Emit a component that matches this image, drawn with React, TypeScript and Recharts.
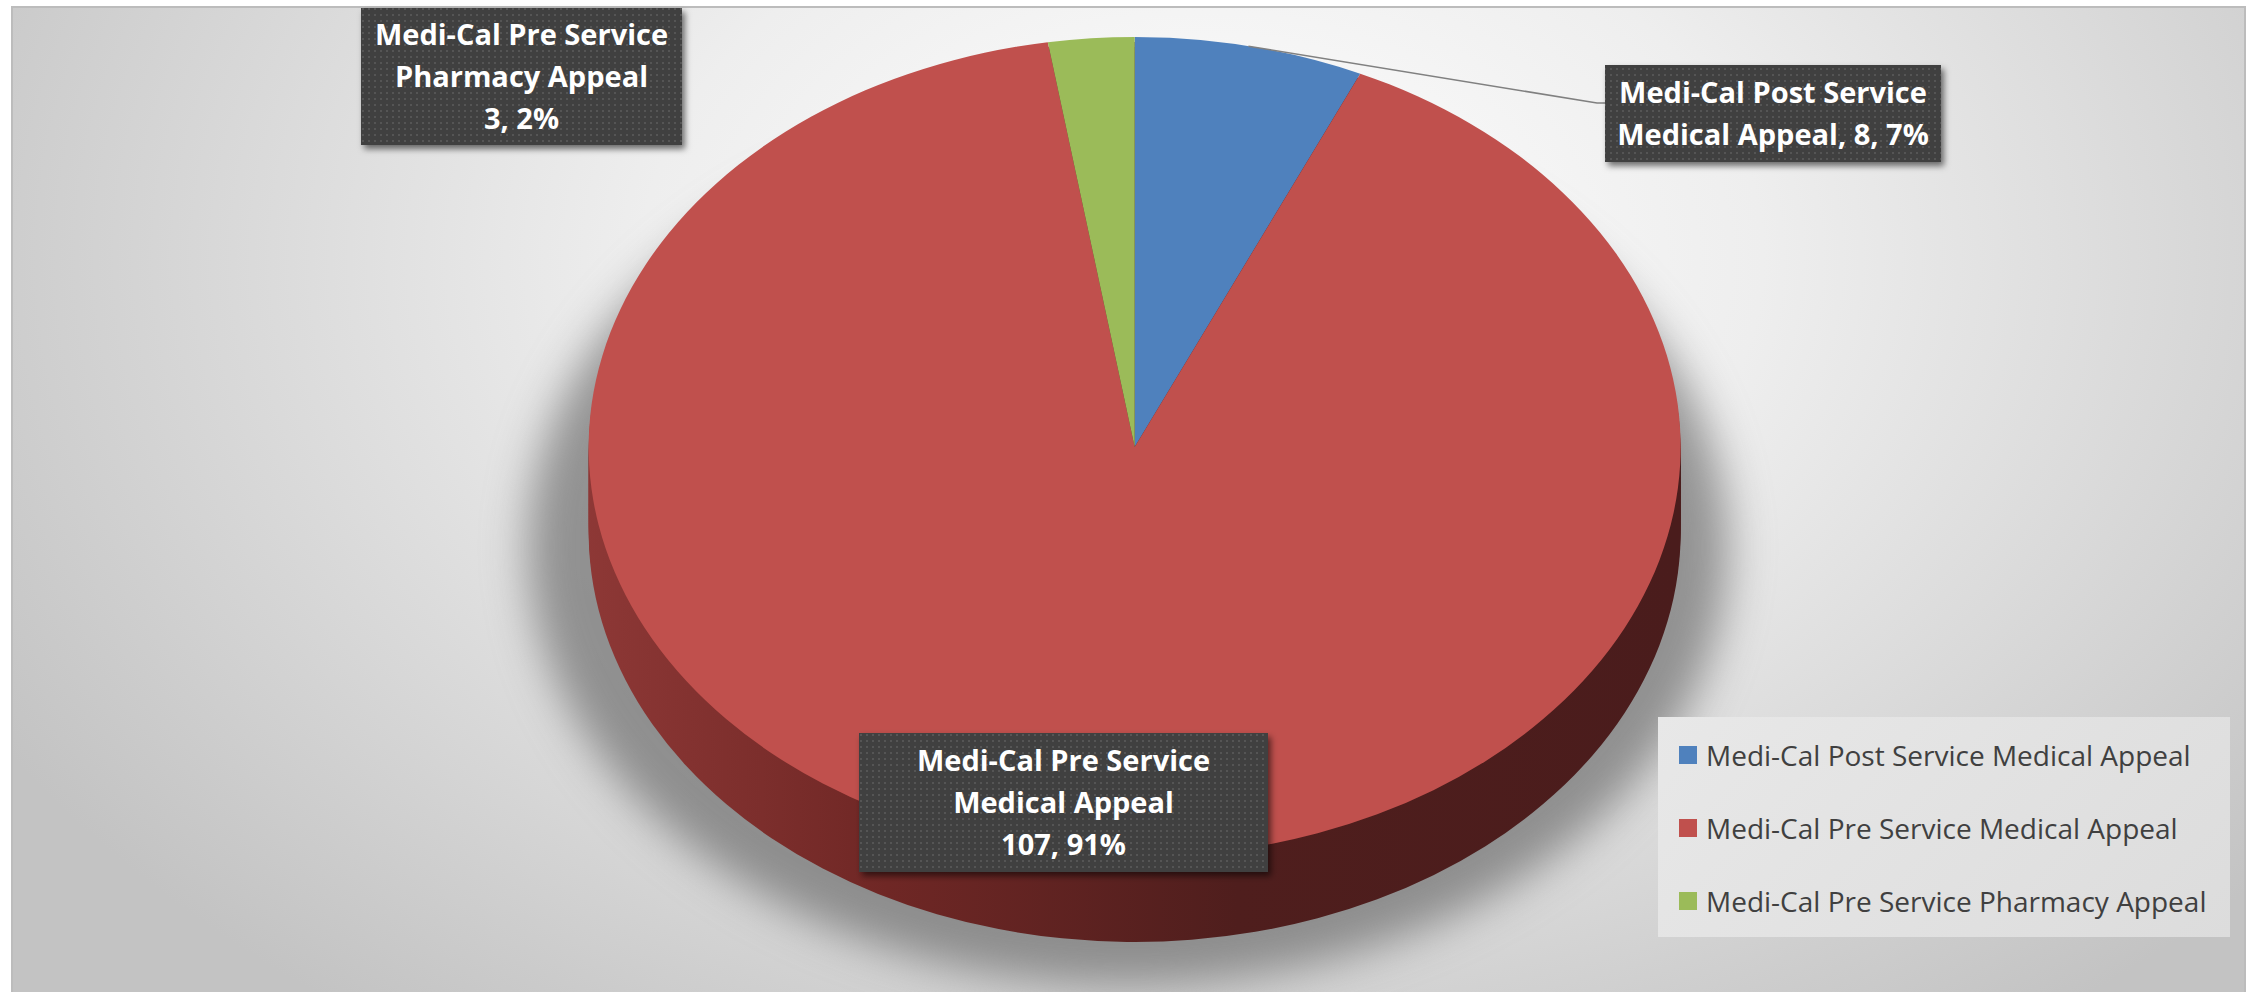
import { PieChart, Pie, Cell, Legend } from "recharts";

const CATEGORIES = [
  "Medi-Cal Post Service Medical Appeal",
  "Medi-Cal Pre Service Medical Appeal",
  "Medi-Cal Pre Service Pharmacy Appeal",
];
const APPEALS = [8, 107, 3];
const PERCENT_LABELS = ["7%", "91%", "2%"];
const COLORS = ["#4f81bd", "#c0504d", "#9bbb59"];

const data = CATEGORIES.map((name, i) => ({ name, value: APPEALS[i] }));

// ellipse geometry of the tilted pie (page pixels)
const CX = 1128;
const CY = 442;
const RY = 410;
const RX = 546;
const SX = RX / RY;
const PIE_W = 1000;
const PIE_H = 992;
// stacked copies that make the side wall
const SIDE_OFFSETS = [85, 80, 75, 70, 65, 60, 55, 50, 45, 40, 35, 30, 25, 20, 15, 10, 5];

// callout boxes, as placed in the original
const CALLOUTS = [
  { x: 1605, y: 65, w: 336, h: 97, inline: true, leader: true },
  { x: 859, y: 733, w: 409, h: 139, inline: false, leader: false },
  { x: 361, y: 8, w: 321, h: 137, inline: false, leader: false },
];

function labelLines(i: number) {
  const name = CATEGORIES[i];
  const cut = name.indexOf("Service") + "Service".length;
  const head = name.slice(0, cut);
  const tail = name.slice(cut + 1);
  const nums = `${APPEALS[i]}, ${PERCENT_LABELS[i]}`;
  return CALLOUTS[i].inline ? [head, `${tail}, ${nums}`] : [head, tail, nums];
}

const renderCallout = (props: any) => {
  const { cx, cy, midAngle, outerRadius, index } = props;
  const box = CALLOUTS[index];
  const rad = (midAngle * Math.PI) / 180;
  const ax = cx + outerRadius * SX * Math.cos(rad);
  const ay = cy - outerRadius * Math.sin(rad);
  const lines = labelLines(index);
  const pitch = 42;
  const first = box.y + box.h / 2 - ((lines.length - 1) * pitch) / 2 + 10;
  const ly = box.y + 38;
  return (
    <g key={`callout-${index}`}>
      <defs>
        <pattern id={`dots-${index}`} width="6" height="6" patternUnits="userSpaceOnUse">
          <rect x="2" y="2" width="2" height="2" fill="#555555" />
        </pattern>
        <filter id={`shadow-${index}`} x="-10%" y="-20%" width="130%" height="150%">
          <feDropShadow dx="3" dy="4" stdDeviation="3" floodColor="#000" floodOpacity="0.55" />
        </filter>
      </defs>
      {box.leader && (
        <polyline
          points={`${ax},${ay} ${box.x - 8},${ly} ${box.x},${ly}`}
          fill="none"
          stroke="#808080"
          strokeWidth={1.5}
        />
      )}
      <rect x={box.x} y={box.y} width={box.w} height={box.h} fill="#404040" filter={`url(#shadow-${index})`} />
      <rect x={box.x} y={box.y} width={box.w} height={box.h} fill={`url(#dots-${index})`} />
      <text
        textAnchor="middle"
        fill="#ffffff"
        fontFamily="'Open Sans', sans-serif"
        fontWeight={700}
        fontSize={29}
      >
        {lines.map((l, k) => (
          <tspan key={k} x={box.x + box.w / 2} y={first + k * pitch}>
            {l}
          </tspan>
        ))}
      </text>
    </g>
  );
};

const renderLegend = () => (
  <div
    style={{
      position: "relative",
      width: 572,
      height: 220,
      background: "linear-gradient(135deg, #e8e8e8, #dcdcdc)",
      fontFamily: "'Open Sans', sans-serif",
    }}
  >
    {CATEGORIES.map((c, i) => (
      <div
        key={c}
        style={{ position: "absolute", left: 21, top: 38 + i * 73 - 20, height: 40, display: "flex", alignItems: "center" }}
      >
        <span style={{ width: 18, height: 18, background: COLORS[i], display: "inline-block", marginRight: 9 }} />
        <span style={{ fontSize: 28, color: "#404040", whiteSpace: "nowrap" }}>{c}</span>
      </div>
    ))}
  </div>
);

export default function App() {
  return (
    <div style={{ position: "absolute", left: 0, top: 0, width: 2252, height: 992, overflow: "hidden", background: "#fff" }}>
      <div
        style={{
          position: "absolute",
          left: 11,
          top: 6,
          width: 2231,
          height: 986,
          borderTop: "2px solid #bcbcbc",
          borderLeft: "2px solid #bcbcbc",
          borderRight: "2px solid #bcbcbc",
          background:
            "radial-gradient(ellipse 1400px 950px at 1190px 250px, #ffffff 0%, #eeeeee 40%, #c3c3c3 100%)",
        }}
      />
      {/* soft floor shadow */}
      <div
        style={{
          position: "absolute",
          left: CX - 600,
          top: 110,
          width: 1200,
          height: 875,
          borderRadius: "50%",
          background: "rgba(110,110,110,0.7)",
          filter: "blur(22px)",
        }}
      />
      <div
        style={{
          position: "absolute",
          left: CX - PIE_W / 2,
          top: 0,
          width: PIE_W,
          height: PIE_H,
          transform: `scaleX(${SX})`,
          transformOrigin: `${PIE_W / 2}px 0px`,
        }}
      >
        <PieChart width={PIE_W} height={PIE_H}>
          <defs>
            <linearGradient id="sideWall" gradientUnits="userSpaceOnUse" x1="90" y1="0" x2="910" y2="0">
              <stop offset="0" stopColor="#8e3836" />
              <stop offset="0.28" stopColor="#6f2725" />
              <stop offset="0.6" stopColor="#4f1e1d" />
              <stop offset="1" stopColor="#4a1c1c" />
            </linearGradient>
          </defs>
          {SIDE_OFFSETS.map((off) => (
            <Pie
              key={`side-${off}`}
              data={data}
              dataKey="value"
              nameKey="name"
              cx={PIE_W / 2}
              cy={CY + off}
              outerRadius={RY}
              startAngle={90}
              endAngle={-270}
              stroke="none"
              isAnimationActive={false}
              legendType="none"
            >
              {data.map((_, i) => (
                <Cell key={i} fill="url(#sideWall)" stroke="none" />
              ))}
            </Pie>
          ))}
          <Pie
            data={data}
            dataKey="value"
            nameKey="name"
            cx={PIE_W / 2}
            cy={CY}
            outerRadius={RY}
            startAngle={90}
            endAngle={-270}
            stroke="none"
            isAnimationActive={false}
          >
            {data.map((_, i) => (
              <Cell key={i} fill={COLORS[i]} stroke="none" />
            ))}
          </Pie>
        </PieChart>
      </div>
      <div style={{ position: "absolute", left: 0, top: 0 }}>
        <PieChart width={2252} height={992}>
          <Pie
            data={data}
            dataKey="value"
            nameKey="name"
            cx={CX}
            cy={CY}
            outerRadius={RY}
            startAngle={90}
            endAngle={-270}
            fill="transparent"
            stroke="none"
            isAnimationActive={false}
            label={renderCallout}
            labelLine={false}
          >
            {data.map((_, i) => (
              <Cell key={i} fill="transparent" stroke="none" />
            ))}
          </Pie>
          <Legend
            content={renderLegend}
            wrapperStyle={{ left: 1658, top: 717, width: 572, height: 220, bottom: "auto", right: "auto" }}
          />
        </PieChart>
      </div>
    </div>
  );
}
